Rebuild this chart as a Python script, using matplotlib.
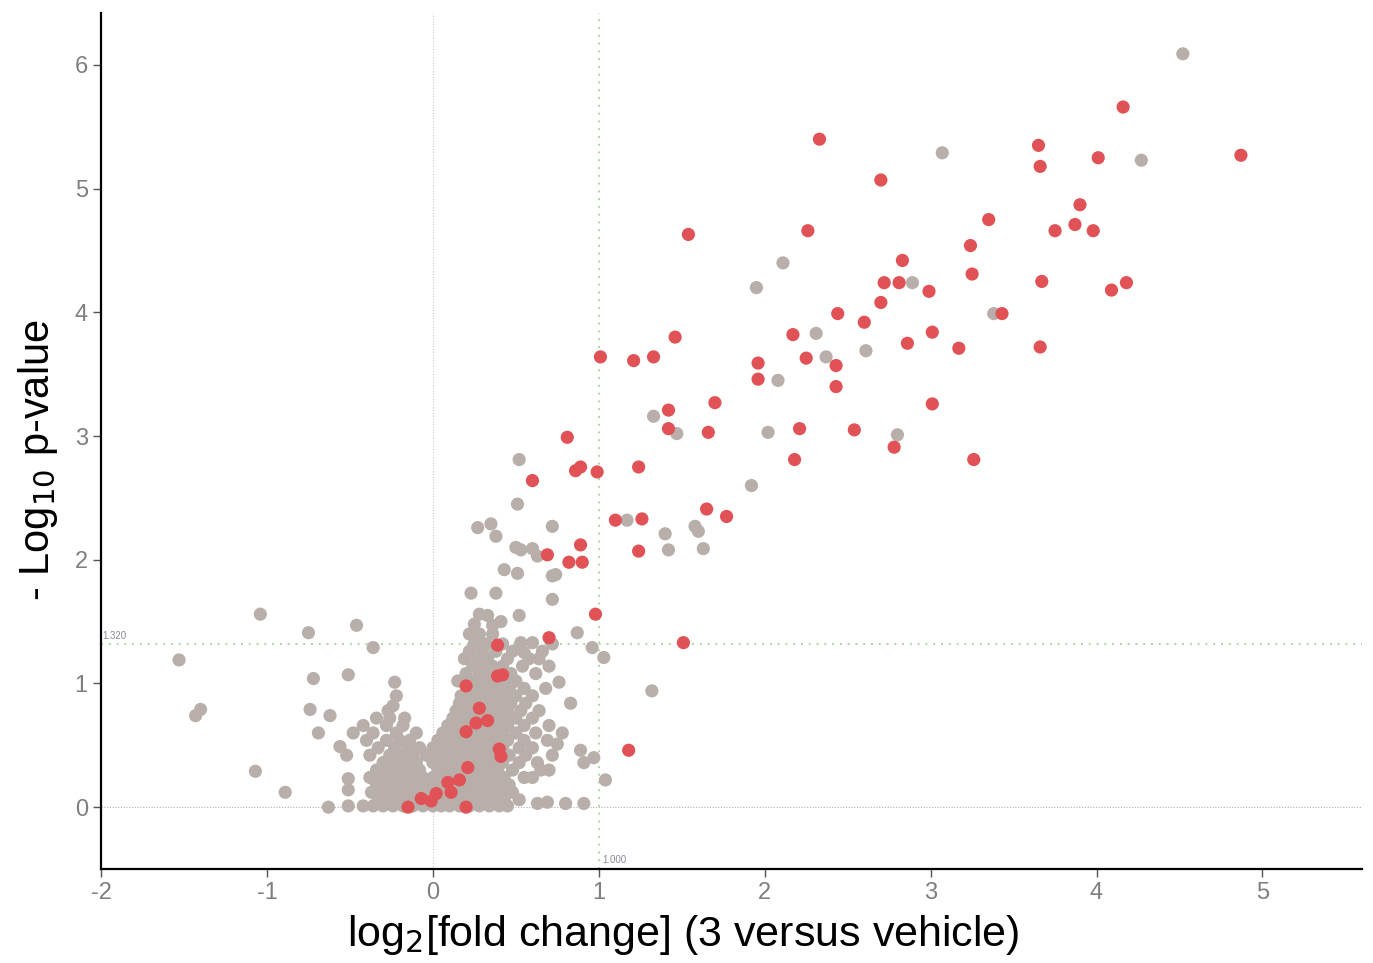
import numpy as np
import matplotlib
matplotlib.use("Agg")
import matplotlib.pyplot as plt

plt.rcParams['axes.unicode_minus'] = False
plt.rcParams['font.family'] = ['Liberation Sans', 'DejaVu Sans']

# significant proteins (red)
red_x = [4.16, 4.87, 3.65, 3.66, 4.01, 2.33, 2.70, 3.90, 3.87, 3.75, 3.98, 3.35,
         1.54, 2.26, 3.24, 2.83, 2.72, 2.81, 3.25, 3.67, 4.18, 4.09, 2.99, 2.70,
         2.44, 3.43, 2.60, 3.01, 2.17, 2.86, 3.17, 3.66, 1.46, 1.01, 1.21, 1.33,
         2.25, 1.96, 2.43, 1.96, 2.43, 1.70, 1.42, 3.01, 1.42, 1.66, 2.21, 2.54,
         0.81, 2.78, 2.18, 3.26, 0.89, 0.86, 0.99, 1.24, 0.60, 1.65, 1.77, 1.10,
         1.26, 0.89, 1.24, 0.69, 0.82, 0.90, 0.98, 0.70, 1.51, 0.39, 0.39, 0.42,
         0.20, 0.28, 0.26, 0.33, 0.20, 1.18, 0.40, 0.41, 0.21, 0.16, 0.09, 0.11,
         0.02, -0.07, -0.01, -0.15, 0.20]
red_y = [5.66, 5.27, 5.35, 5.18, 5.25, 5.40, 5.07, 4.87, 4.71, 4.66, 4.66, 4.75,
         4.63, 4.66, 4.54, 4.42, 4.24, 4.24, 4.31, 4.25, 4.24, 4.18, 4.17, 4.08,
         3.99, 3.99, 3.92, 3.84, 3.82, 3.75, 3.71, 3.72, 3.80, 3.64, 3.61, 3.64,
         3.63, 3.59, 3.57, 3.46, 3.40, 3.27, 3.21, 3.26, 3.06, 3.03, 3.06, 3.05,
         2.99, 2.91, 2.81, 2.81, 2.75, 2.72, 2.71, 2.75, 2.64, 2.41, 2.35, 2.32,
         2.33, 2.12, 2.07, 2.04, 1.98, 1.98, 1.56, 1.37, 1.33, 1.31, 1.06, 1.07,
         0.98, 0.80, 0.68, 0.70, 0.61, 0.46, 0.47, 0.41, 0.32, 0.22, 0.20, 0.12,
         0.11, 0.07, 0.05, 0.00, 0.00]

# non-significant proteins, scattered ones
gray_outer = [
    (4.52, 6.09), (3.07, 5.29), (4.27, 5.23), (2.11, 4.40), (2.89, 4.24), (1.95, 4.20),
    (3.38, 3.99), (2.31, 3.83), (2.37, 3.64), (2.61, 3.69), (2.08, 3.45), (1.33, 3.16),
    (2.02, 3.03), (1.47, 3.02), (2.80, 3.01), (1.92, 2.60), (1.17, 2.32), (1.58, 2.27),
    (1.60, 2.23), (1.40, 2.21), (1.42, 2.08), (1.63, 2.09), (1.32, 0.94),
    (0.52, 2.81), (0.51, 2.45), (0.72, 2.27), (0.27, 2.26), (0.35, 2.29), (0.38, 2.19),
    (0.50, 2.10), (0.53, 2.08), (0.60, 2.09), (0.63, 2.03), (0.43, 1.92), (0.51, 1.89),
    (0.72, 1.87), (0.74, 1.88), (0.23, 1.73), (0.38, 1.73), (0.72, 1.68), (0.28, 1.56),
    (0.33, 1.55), (0.52, 1.55), (0.25, 1.48), (0.36, 1.47), (0.41, 1.50), (0.87, 1.41),
    (0.55, 1.25), (0.53, 1.33), (0.60, 1.33), (0.96, 1.29), (1.03, 1.21), (0.76, 1.01),
    (0.83, 0.84), (0.78, 0.60), (0.75, 0.51), (0.89, 0.46), (0.91, 0.36), (0.97, 0.40),
    (1.04, 0.22), (0.63, 0.03), (0.69, 0.04), (0.80, 0.03), (0.91, 0.03),
    (-1.04, 1.56), (-1.53, 1.19), (-1.43, 0.74), (-1.40, 0.79), (-1.07, 0.29), (-0.89, 0.12),
    (-0.75, 1.41), (-0.46, 1.47), (-0.36, 1.29), (-0.72, 1.04), (-0.74, 0.79), (-0.62, 0.74),
    (-0.51, 1.07), (-0.69, 0.60), (-0.56, 0.49), (-0.63, 0.00), (-0.51, 0.23), (-0.51, 0.14),
    (-0.23, 1.01), (-0.22, 0.90), (-0.24, 0.82),
]

# non-significant proteins, dense cluster near the origin
gray_core = [
    (-0.51, 0.01), (-0.42, 0.01), (-0.36, 0.01), (-0.30, 0.01), (-0.24, 0.01), (-0.18, 0.01),
    (-0.12, 0.01), (-0.06, 0.01), (0.00, 0.01), (0.05, 0.01), (0.10, 0.01), (0.16, 0.01),
    (0.22, 0.01), (0.28, 0.01), (0.34, 0.01), (0.40, 0.01), (0.45, 0.01),
    (-0.33, 0.06), (-0.27, 0.06), (-0.21, 0.06), (-0.15, 0.06), (-0.09, 0.06), (-0.03, 0.06),
    (0.03, 0.06), (0.09, 0.06), (0.14, 0.06), (0.20, 0.06), (0.26, 0.06), (0.31, 0.06),
    (0.37, 0.06), (0.43, 0.06), (0.52, 0.06),
    (-0.37, 0.12), (-0.31, 0.12), (-0.25, 0.12), (-0.19, 0.12), (-0.13, 0.12), (-0.07, 0.12),
    (0.00, 0.12), (0.06, 0.12), (0.12, 0.12), (0.18, 0.12), (0.24, 0.12), (0.30, 0.12),
    (0.36, 0.12), (0.42, 0.12), (0.48, 0.12),
    (-0.34, 0.18), (-0.28, 0.18), (-0.22, 0.18), (-0.16, 0.18), (-0.10, 0.18), (-0.04, 0.18),
    (0.03, 0.18), (0.09, 0.18), (0.15, 0.18), (0.21, 0.18), (0.27, 0.18), (0.33, 0.18),
    (0.39, 0.18), (0.46, 0.18),
    (-0.38, 0.24), (-0.31, 0.24), (-0.25, 0.24), (-0.19, 0.24), (-0.12, 0.24), (-0.06, 0.24),
    (0.00, 0.24), (0.06, 0.24), (0.12, 0.24), (0.18, 0.24), (0.24, 0.24), (0.30, 0.24),
    (0.36, 0.24), (0.43, 0.24), (0.55, 0.24), (0.60, 0.24),
    (-0.34, 0.30), (-0.27, 0.30), (-0.21, 0.30), (-0.14, 0.30), (-0.08, 0.30), (0.03, 0.30),
    (0.09, 0.30), (0.15, 0.30), (0.21, 0.30), (0.27, 0.30), (0.33, 0.30), (0.39, 0.30),
    (0.48, 0.30), (0.65, 0.30), (0.70, 0.30),
    (-0.30, 0.36), (-0.23, 0.36), (-0.16, 0.36), (-0.10, 0.36), (0.00, 0.36), (0.06, 0.36),
    (0.12, 0.36), (0.18, 0.36), (0.24, 0.36), (0.30, 0.36), (0.36, 0.36), (0.42, 0.36),
    (0.52, 0.36), (0.63, 0.36),
    (-0.52, 0.42), (-0.38, 0.42), (-0.26, 0.42), (-0.19, 0.42), (-0.12, 0.42), (-0.04, 0.42),
    (0.03, 0.42), (0.09, 0.42), (0.15, 0.42), (0.21, 0.42), (0.27, 0.42), (0.33, 0.42),
    (0.39, 0.42), (0.46, 0.42), (0.56, 0.42), (0.72, 0.42),
    (-0.33, 0.48), (-0.23, 0.48), (-0.15, 0.48), (-0.08, 0.48), (0.00, 0.48), (0.06, 0.48),
    (0.12, 0.48), (0.18, 0.48), (0.24, 0.48), (0.30, 0.48), (0.36, 0.48), (0.42, 0.48),
    (0.52, 0.48), (0.60, 0.48),
    (-0.40, 0.54), (-0.28, 0.54), (-0.20, 0.54), (-0.14, 0.54), (0.03, 0.54), (0.09, 0.54),
    (0.15, 0.54), (0.21, 0.54), (0.27, 0.54), (0.33, 0.54), (0.39, 0.54), (0.45, 0.54),
    (0.55, 0.54), (0.69, 0.54),
    (-0.48, 0.60), (-0.36, 0.60), (-0.22, 0.60), (-0.10, 0.60), (0.06, 0.60), (0.12, 0.60),
    (0.18, 0.60), (0.24, 0.60), (0.30, 0.60), (0.36, 0.60), (0.42, 0.60), (0.50, 0.60),
    (0.62, 0.60),
    (-0.42, 0.66), (-0.28, 0.66), (-0.18, 0.66), (0.09, 0.66), (0.15, 0.66), (0.21, 0.66),
    (0.27, 0.66), (0.33, 0.66), (0.39, 0.66), (0.45, 0.66), (0.55, 0.66), (0.70, 0.66),
    (-0.34, 0.72), (-0.26, 0.72), (-0.17, 0.72), (0.12, 0.72), (0.18, 0.72), (0.24, 0.72),
    (0.30, 0.72), (0.36, 0.72), (0.43, 0.72), (0.50, 0.72), (0.60, 0.72),
    (-0.27, 0.78), (0.14, 0.78), (0.20, 0.78), (0.26, 0.78), (0.32, 0.78), (0.38, 0.78),
    (0.45, 0.78), (0.53, 0.78), (0.64, 0.78),
    (0.16, 0.84), (0.22, 0.84), (0.28, 0.84), (0.34, 0.84), (0.40, 0.84), (0.47, 0.84),
    (0.56, 0.84),
    (0.17, 0.90), (0.24, 0.90), (0.30, 0.90), (0.36, 0.90), (0.42, 0.90), (0.50, 0.90),
    (0.60, 0.90),
    (0.22, 0.96), (0.28, 0.96), (0.34, 0.96), (0.40, 0.96), (0.46, 0.96), (0.55, 0.96),
    (0.68, 0.96),
    (0.15, 1.02), (0.25, 1.02), (0.31, 1.02), (0.37, 1.02), (0.44, 1.02), (0.50, 1.02),
    (0.20, 1.08), (0.28, 1.08), (0.34, 1.08), (0.47, 1.08), (0.62, 1.08),
    (0.24, 1.14), (0.30, 1.14), (0.36, 1.14), (0.42, 1.14), (0.54, 1.14), (0.70, 1.14),
    (0.19, 1.20), (0.27, 1.20), (0.33, 1.20), (0.45, 1.20), (0.58, 1.20), (0.64, 1.20),
    (0.22, 1.26), (0.30, 1.26), (0.38, 1.26), (0.48, 1.26), (0.66, 1.26),
    (0.25, 1.32), (0.32, 1.32), (0.42, 1.32), (0.72, 1.32),
    (0.22, 1.40), (0.28, 1.40), (0.36, 1.40),
]

gray = np.array(gray_outer + gray_core)

fig = plt.figure(figsize=(13.73, 9.63), dpi=100)
ax = fig.add_axes([0.0736, 0.0976, 0.9184, 0.8889])

# reference lines
ax.axhline(0, color='#b0b0b0', lw=0.8, ls=(0, (1, 1.5)), zorder=1)
ax.axvline(0, color='#c8c8c8', lw=0.8, ls=(0, (1, 1.5)), zorder=1)
ax.axhline(1.32, color='#a9d9a0', lw=1.4, ls=(0, (1, 3)), zorder=1)
ax.axvline(1.0, color='#a9d9a0', lw=1.4, ls=(0, (1, 3)), zorder=1)
ax.text(-1.99, 1.345, '1.320', fontsize=7, color='#8a8a9a', va='bottom', ha='left')
ax.text(1.02, -0.47, '1.000', fontsize=7, color='#8a8a9a', va='bottom', ha='left')

ax.scatter(gray[:, 0], gray[:, 1], s=90, color='#b8afab', edgecolors='none', zorder=2)
ax.scatter(red_x, red_y, s=90, color='#e15256', edgecolors='none', zorder=3)

ax.set_xlim(-2, 5.6)
ax.set_ylim(-0.5, 6.42)
ax.set_xticks([-2, -1, 0, 1, 2, 3, 4, 5])
ax.set_yticks([0, 1, 2, 3, 4, 5, 6])

for s in ['top', 'right']:
    ax.spines[s].set_visible(False)
for s in ['left', 'bottom']:
    ax.spines[s].set_linewidth(1.6)
    ax.spines[s].set_color('black')

ax.tick_params(axis='both', length=6, width=1, color='#555555',
               labelsize=17, labelcolor='#7f7f7f')

ax.set_xlabel('log$_2$[fold change] (3 versus vehicle)', fontsize=31, va='center')
ax.set_ylabel('- Log$_{10}$ p-value', fontsize=30, va='center')
ax.xaxis.set_label_coords(0.4615, -0.077)
ax.yaxis.set_label_coords(-0.05, 0.478)

fig.savefig('out.png', dpi=100)
